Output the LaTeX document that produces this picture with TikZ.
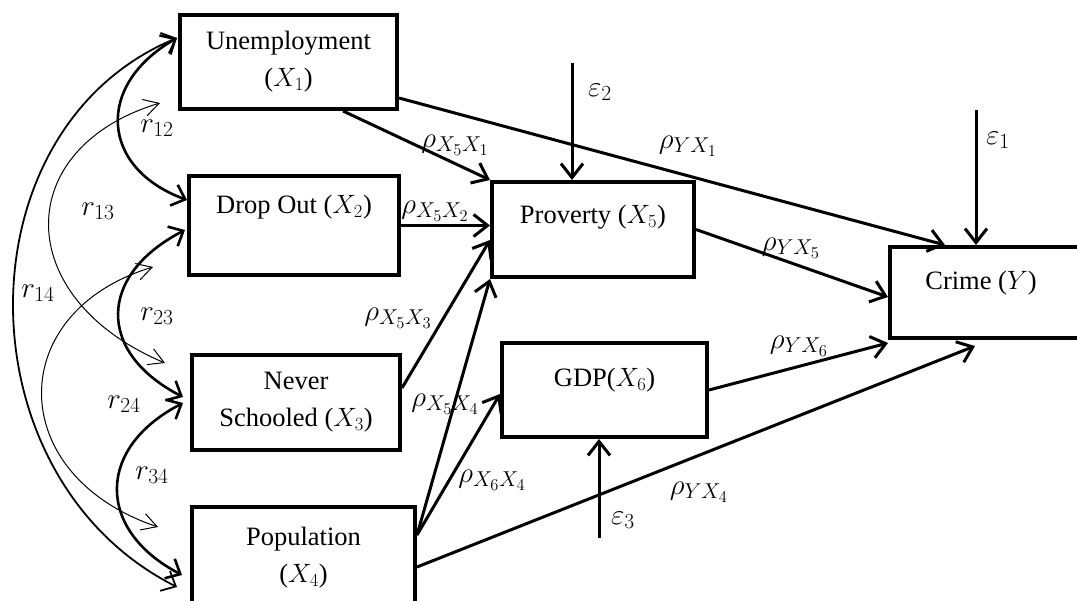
\documentclass[tikz,border=0pt]{standalone}
\usepackage{fix-cm}
\usepackage{amsmath,amssymb}
\usepackage{fontspec}
\setmainfont{Liberation Serif}
\DeclareMathSizes{29}{29}{21.5}{16.5}
\usetikzlibrary{arrows.meta,calc,positioning}

\begin{document}
\begin{tikzpicture}[x=1pt,y=-1pt,
    font=\fontsize{26.5}{37}\selectfont,
    var/.style={draw,line width=4pt,inner sep=0pt,align=center},
    coef/.style={font=\fontsize{29}{34}\selectfont,inner sep=0pt},
    effect/.style={line width=3pt,-{Straight Barb[length=14pt,width=22pt]}},
    corr/.style={line width=2.6pt,{Straight Barb[length=12pt,width=22pt]}-{Straight Barb[length=12pt,width=22pt]}},
    corrouter/.style={line width=1.8pt,{Straight Barb[length=12pt,width=22pt]}-{Straight Barb[length=12pt,width=22pt]}},
    corrthin/.style={line width=1pt,{Straight Barb[length=15pt,width=17pt]}-{Straight Barb[length=15pt,width=17pt]}}]
    \useasboundingbox (0,0) rectangle (1077,601);
    % variables
    \node[var,minimum width=217pt,minimum height=94pt] (x1) at (288.5,62) {Unemployment\\($X_1$)};
    \node[var,minimum width=210pt,minimum height=99pt,text depth=42pt] (x2) at (294,225.5) {Drop Out ($X_2$)};
    \node[var,minimum width=208pt,minimum height=95pt] (x3) at (296,402.5) {Never\\Schooled ($X_3$)};
    \node[var,minimum width=223pt,minimum height=101pt] (x4) at (303.5,557.5) {Population\\($X_4$)};
    \node[var,minimum width=202pt,minimum height=95pt,text depth=31pt] (x5) at (593,229.5) {Proverty ($X_5$)};
    \node[var,minimum width=205pt,minimum height=94pt,text depth=26pt] (x6) at (604.5,390) {GDP($X_6$)};
    \node[var,minimum width=200pt,minimum height=91pt,text depth=24pt] (y) at (990,292.5) {Crime ($Y$)\hspace*{18pt}};
    % direct effects
    \draw[effect] ([yshift=-36pt]x1.east) -- ([xshift=-45pt]y.north);
    \draw[effect] ([xshift=54.5pt]x1.south) -- (x5.north west);
    \draw[effect] (x2.east) -- (x2.east -| x5.west);
    \draw[effect] ([yshift=14.5pt]x3.east) -- ([yshift=-10.5pt]x5.west);
    \draw[effect] ([yshift=22.5pt]x4.east) -- (x5.south west);
    \draw[effect] ([yshift=22.5pt]x4.east) -- ([yshift=-4pt]x6.west);
    \draw[effect] ([yshift=-9.5pt]x4.east) -- ([xshift=-15pt,yshift=-6pt]y.south);
    \draw[effect] (x5.east) -- ([yshift=-4.5pt]y.west);
    \draw[effect] (x6.east) -- ([yshift=-3pt]y.south west);
    % error terms
    \coordinate (e1) at (976,110);
    \coordinate (e2) at (572,63);
    \coordinate (e3) at (599,538);
    \draw[effect] (e1) -- (e1 |- y.north);
    \draw[effect] (e2) -- (e2 |- x5.north);
    \draw[effect] (e3) -- (e3 |- x6.south);
    \node[coef] (le1) at (998,140) {$\varepsilon_1$};
    \node[coef] (le2) at (600,92) {$\varepsilon_2$};
    \node[coef] (le3) at (623,520) {$\varepsilon_3$};
    % path coefficients
    \node[coef] (p51) at (455,145) {$\rho_{X_5X_1}$};
    \node[coef] (p52) at (435,211) {$\rho_{X_5X_2}$};
    \node[coef] (p53) at (398,318) {$\rho_{X_5X_3}$};
    \node[coef] (p54) at (445,404) {$\rho_{X_5X_4}$};
    \node[coef] (p64) at (492,480) {$\rho_{X_6X_4}$};
    \node[coef] (py1) at (688,146) {$\rho_{YX_1}$};
    \node[coef] (py5) at (791,248) {$\rho_{YX_5}$};
    \node[coef] (py6) at (799,346) {$\rho_{YX_6}$};
    \node[coef] (py4) at (699,492) {$\rho_{YX_4}$};
    % correlations
    \coordinate (c13a) at (160,103);
    \coordinate (c13b) at (165,363);
    \coordinate (c24a) at (153,267);
    \coordinate (c24b) at (158,527);
    \draw[corr] ([xshift=-1pt,yshift=24pt]x1.west) .. controls +(-82,47) and +(-87,-32) .. ([yshift=25.5pt]x2.west);
    \draw[corr] ([xshift=-2pt,yshift=-4.5pt]x2.west) .. controls +(-87,45) and +(-87,-45) .. ([xshift=-7pt,yshift=5.5pt]x3.west);
    \draw[corr] ([xshift=-7pt,yshift=-0.5pt]x3.west) .. controls +(-87,45) and +(-86,-45) .. ([xshift=-8pt,yshift=-17.5pt]x4.west);
    \draw[corrouter] ([xshift=-1pt,yshift=24pt]x1.west) .. controls +(-218,90) and +(-218,-110) .. ([xshift=-13pt,yshift=-29.5pt]x4.west);
    \draw[corrthin] (c13a) .. controls +(-149,45) and +(-154,-65) .. (c13b);
    \draw[corrthin] (c24a) .. controls +(-149,45) and +(-154,-52) .. (c24b);
    \node[coef] (r12) at (157,128) {$r_{12}$};
    \node[coef] (r13) at (98,211) {$r_{13}$};
    \node[coef] (r14) at (38,293) {$r_{14}$};
    \node[coef] (r23) at (157,316) {$r_{23}$};
    \node[coef] (r24) at (124,404) {$r_{24}$};
    \node[coef] (r34) at (152,475) {$r_{34}$};
\end{tikzpicture}
\end{document}
